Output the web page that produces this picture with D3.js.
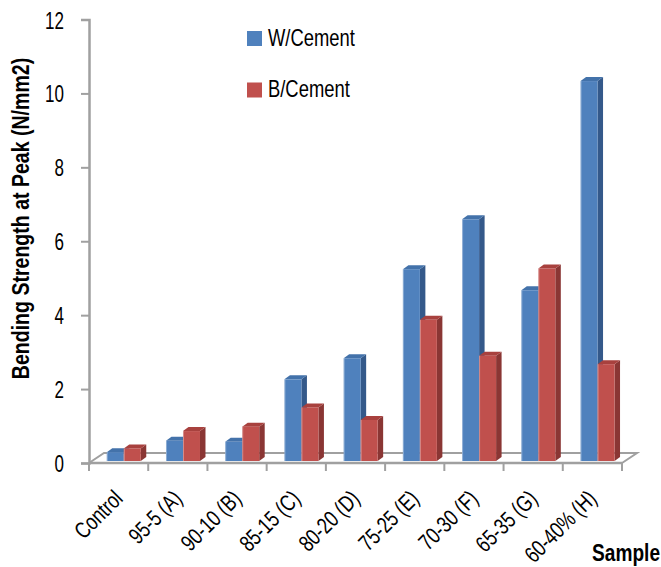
<!DOCTYPE html>
<html>
<head>
<meta charset="utf-8">
<script src="https://cdn.jsdelivr.net/npm/d3@7"></script>
<style>
  html, body { margin: 0; padding: 0; background: #fff; }
  svg { display: block; }
  text { font-family: "Liberation Sans", Arial, sans-serif; fill: #000; }
</style>
</head>
<body>
<svg id="chart" width="661" height="567"></svg>
<script>
// Sample labels and the two measured series (N/mm2)
const categories = ["Control", "95-5 (A)", "90-10 (B)", "85-15 (C)", "80-20 (D)", "75-25 (E)", "70-30 (F)", "65-35 (G)", "60-40% (H)"];
const seriesNames = ["W/Cement", "B/Cement"];
const wCement = [0.24, 0.55, 0.52, 2.21, 2.78, 5.19, 6.54, 4.62, 10.28];
const bCement = [0.34, 0.81, 0.93, 1.45, 1.11, 3.82, 2.85, 5.21, 2.62];
const yTicks = [0, 2, 4, 6, 8, 10, 12];

const svg = d3.select("#chart");

const x = d3.scaleBand().domain(categories).range([89, 622]);
const y = d3.scaleLinear().domain([0, 12]).range([463, 19.5]);

const axisColor = "#a0a0a0";
// floor depth (oblique projection) and bar depth
const floorDx = 15, floorDy = -10;
const frontDx = 3, frontDy = -2;      // bar front plane offset from axis plane
const depthDx = 5.5, depthDy = -4;    // bar thickness in depth

const palette = [
  { front: "#4f81bd", top: "#4372aa", side: "#34598a" },
  { front: "#c0504d", top: "#a8413e", side: "#8a3634" }
];

// condensed text: place a label at (tx, ty), optionally rotated, squeezed horizontally
function label(parent, str, tx, ty, opts) {
  const o = Object.assign({ size: 23, sx: 0.78, rotate: 0, anchor: "start", weight: "normal" }, opts);
  return parent.append("text")
    .attr("transform", `translate(${tx},${ty}) rotate(${o.rotate}) scale(${o.sx},1)`)
    .attr("text-anchor", o.anchor)
    .attr("font-size", o.size)
    .attr("font-weight", o.weight)
    .text(str);
}

// ----- floor -----
const y0 = y(0);
const floor = svg.append("g").attr("fill", "none").attr("stroke", axisColor);
floor.append("path")
  .attr("stroke-width", 2)
  .attr("d", `M${x.range()[0]},${y0} L${x.range()[0] + floorDx},${y0 + floorDy} L${x.range()[1] + floorDx},${y0 + floorDy} L${x.range()[1]},${y0}`);

// ----- bars -----
const barGroup = svg.append("g");
const series = [wCement, bCement];
const barOffset = 0.3 * x.bandwidth() - frontDx;
const barW = 0.287 * x.bandwidth();

categories.forEach((c, ci) => {
  series.forEach((vals, si) => {
    const v = vals[ci];
    const xl = x(c) + barOffset + si * barW + frontDx;
    const xr = xl + barW;
    const yt = y(v) + frontDy;
    const yb = y(0) + frontDy;
    const col = palette[si];
    const g = barGroup.append("g");
    // side face
    g.append("path")
      .attr("fill", col.side)
      .attr("d", `M${xr},${yt} L${xr + depthDx},${yt + depthDy} L${xr + depthDx},${yb + depthDy} L${xr},${yb} Z`);
    // top face
    g.append("path")
      .attr("fill", col.top)
      .attr("d", `M${xl},${yt} L${xl + depthDx},${yt + depthDy} L${xr + depthDx},${yt + depthDy} L${xr},${yt} Z`);
    // front face
    g.append("rect")
      .attr("x", xl).attr("y", yt)
      .attr("width", barW).attr("height", yb - yt)
      .attr("fill", col.front);
    // light bevel on the left edge
    g.append("line")
      .attr("x1", xl + 0.5).attr("x2", xl + 0.5)
      .attr("y1", yt).attr("y2", yb)
      .attr("stroke", "#ffffff").attr("stroke-opacity", 0.35);
  });
});

// front edge of the floor
svg.append("line")
  .attr("x1", x.range()[0]).attr("x2", x.range()[1])
  .attr("y1", y0).attr("y2", y0)
  .attr("stroke", axisColor).attr("stroke-width", 2.5);

// ----- value axis -----
const yAxis = d3.axisLeft(y).tickValues(yTicks).tickSize(8).tickFormat(d3.format("d"));
const yg = svg.append("g").attr("transform", `translate(${x.range()[0]},0)`).call(yAxis);
yg.select(".domain").attr("stroke", axisColor).attr("stroke-width", 2.5);
yg.selectAll(".tick line").attr("stroke", axisColor).attr("stroke-width", 2);
yg.selectAll(".tick text").remove();
yg.selectAll(".tick").each(function(d) {
  label(d3.select(this), d3.format("d")(d), -25, 8.5, { anchor: "end", sx: 0.74 });
});

// ----- category axis -----
const boundaries = categories.map(c => x(c)).concat([x.range()[1]]);
svg.append("g").selectAll("line").data(boundaries).join("line")
  .attr("x1", d => d).attr("x2", d => d)
  .attr("y1", y0).attr("y2", y0 + 8)
  .attr("stroke", axisColor).attr("stroke-width", 2);

const catLabels = svg.append("g");
categories.forEach(c => {
  label(catLabels, c, x(c) + x.bandwidth() / 2 + 5.5, 500, { anchor: "end", size: 23, sx: 0.77, rotate: -45 });
});

// ----- axis titles -----
label(svg, "Bending Strength at Peak (N/mm2)", 28.5, 218.5, { anchor: "middle", weight: "bold", sx: 0.85, rotate: -90 });
label(svg, "Sample", 660, 561, { anchor: "end", weight: "bold", sx: 0.83 });

// ----- legend -----
const legend = svg.append("g");
seriesNames.forEach((name, i) => {
  const ly = 31 + i * 51.5;
  legend.append("rect")
    .attr("x", 247).attr("y", ly)
    .attr("width", 15).attr("height", 15)
    .attr("fill", palette[i].front);
  label(legend, name, 268, ly + 14.5, { sx: 0.8 });
});
</script>
</body>
</html>
